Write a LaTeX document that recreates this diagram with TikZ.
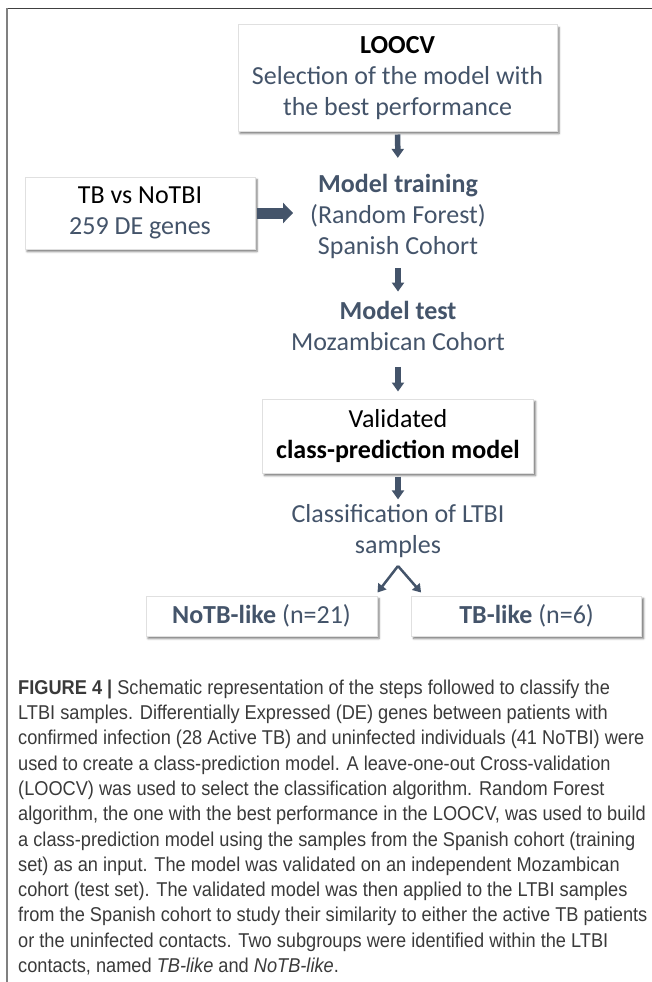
\documentclass[tikz,border=0pt]{standalone}
\usepackage{fontspec}
\setmainfont{Carlito}
\newfontfamily\capfont[FakeStretch=0.91]{Liberation Sans}
\usepackage{xcolor}
\usetikzlibrary{arrows.meta, positioning, shadows.blur}

\definecolor{slate}{HTML}{44546A}
\definecolor{capgray}{HTML}{3A3A3A}

\begin{document}
\begin{tikzpicture}[x=1pt, y=-1pt,
    font=\fontsize{26}{31}\selectfont,
    box/.style={rectangle, draw=black!12, line width=1pt, fill=white, align=center, inner sep=0pt,
        blur shadow={shadow xshift=2pt, shadow yshift=-2.5pt, shadow blur radius=2pt, shadow opacity=55}},
    txt/.style={align=center, text=slate, inner sep=0pt},
    fatarrow/.style={line width=5.5pt, draw=slate, -{Triangle[width=12pt, length=9pt]}},
    widearrow/.style={line width=11pt, draw=slate, -{Triangle[width=20pt, length=10pt]}},
    splitarrow/.style={line width=2.5pt, draw=slate, -{Triangle[width=10pt, length=8pt]}}
]
\useasboundingbox (0,0) rectangle (652,982);

% Page frame
\draw[line width=1.5pt, black!75] (7,8.5) -- (652,8.5);
\draw[line width=1.5pt, black!50] (7,8.5) -- (7,982);

% Define nodes
\node[box, minimum width=319pt, minimum height=106pt] (loocv) at (397.5,78)
    {\textbf{LOOCV}\\\textcolor{slate}{Selection of the model with}\\\textcolor{slate}{the best performance}};
\node[txt] (training) at (398,216.8) {\textbf{Model training}\\(Random Forest)\\Spanish Cohort};
\node[box, minimum width=230pt, minimum height=72pt] (genes) at (140,213)
    {TB vs NoTBI\\\textcolor{slate}{259 DE genes}};
\node[txt] (test) at (398,326) {\textbf{Model test}\\Mozambican Cohort};
\node[box, minimum width=271pt, minimum height=74pt] (validated) at (398,436)
    {Validated\\\textbf{class-prediction model}};
\node[txt] (classif) at (398,530.7) {Classification of LTBI\\samples};
\coordinate (split) at (398,566);

% Subgroups
\node[box, text=slate, minimum width=231pt, minimum height=40pt] (notb) at (261.5,616)
    {\textbf{NoTB-like} (n=21)};
\node[box, text=slate, minimum width=230pt, minimum height=40pt] (tblike) at (526.6,616)
    {\textbf{TB-like} (n=6)};

% Draw arrows
\draw[fatarrow, shorten <=3pt, shorten >=16.5pt] (loocv) -- (training);
\draw[widearrow, shorten <=1.7pt, shorten >=17pt] (genes.east) -- (genes.east -| training.west);
\draw[fatarrow, shorten <=9pt, shorten >=9.5pt] (training) -- (test);
\draw[fatarrow, shorten <=16pt, shorten >=7pt] (test) -- (validated);
\draw[fatarrow, shorten <=3pt, shorten >=4.5pt] (validated) -- (classif);
\draw[splitarrow] (split) -- ([yshift=3pt]notb.north east);
\draw[splitarrow] (split) -- ([xshift=10pt, yshift=3pt]tblike.north west);

% Caption
\node[anchor=north west, align=left, inner sep=0pt, text=capgray,
      font=\capfont\fontsize{20}{25.3}\selectfont] (caption) at (18,679.5)
{\textbf{FIGURE 4 |} Schematic representation of the steps followed to classify the\\
LTBI samples. Differentially Expressed (DE) genes between patients with\\
confirmed infection (28 Active TB) and uninfected individuals (41 NoTBI) were\\
used to create a class-prediction model. A leave-one-out Cross-validation\\
(LOOCV) was used to select the classification algorithm. Random Forest\\
algorithm, the one with the best performance in the LOOCV, was used to build\\
a class-prediction model using the samples from the Spanish cohort (training\\
set) as an input. The model was validated on an independent Mozambican\\
cohort (test set). The validated model was then applied to the LTBI samples\\
from the Spanish cohort to study their similarity to either the active TB patients\\
or the uninfected contacts. Two subgroups were identified within the LTBI\\
contacts, named \textit{TB-like} and \textit{NoTB-like}.};

\end{tikzpicture}
\end{document}
